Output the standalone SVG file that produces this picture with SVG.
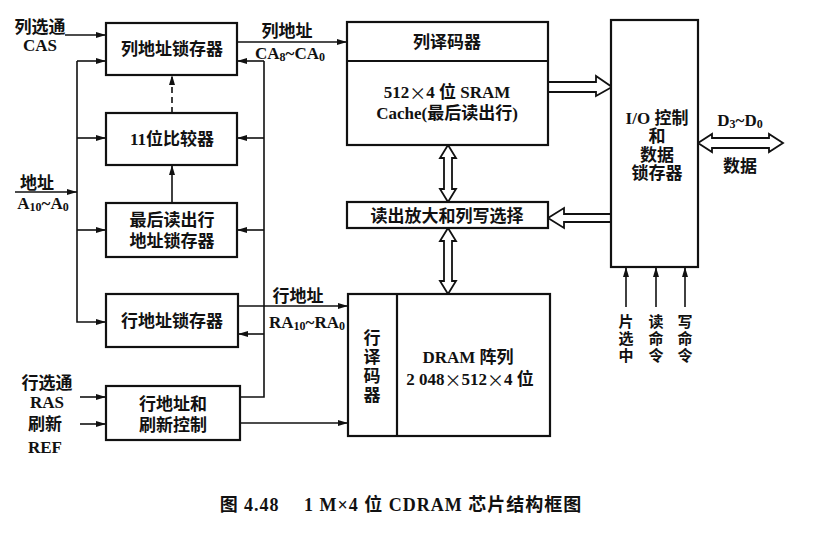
<svg xmlns="http://www.w3.org/2000/svg" width="821" height="535" viewBox="0 0 821 535">
<defs>
<style>
text{font-family:"Liberation Serif","Noto Sans CJK SC",serif;font-weight:bold;font-size:17px;fill:#111;text-anchor:middle;dominant-baseline:central}
.box{fill:#fff;stroke:#111;stroke-width:2.2}
.ln{fill:none;stroke:#111;stroke-width:1.6}
.hol{fill:#fff;stroke:#111;stroke-width:1.8;stroke-linejoin:miter}
.sub{font-size:12px}
.vt{font-size:15px}
.x{font-family:"Noto Sans CJK SC",sans-serif;font-weight:normal}
.cap{font-size:18px;letter-spacing:1px}
</style>
<marker id="ah" viewBox="0 0 10 8" refX="10" refY="4" markerWidth="10" markerHeight="8" markerUnits="userSpaceOnUse" orient="auto">
<path d="M0,1 L10,4 L0,7 Z" fill="#111"/>
</marker>
</defs>
<rect width="821" height="535" fill="#fff"/>

<g id="connectors">
<path class="ln" d="M77,61 V322 H106" marker-end="url(#ah)"/>
<path class="ln" d="M77,61 H106" marker-end="url(#ah)"/>
<path class="ln" d="M77,138 H106" marker-end="url(#ah)"/>
<path class="ln" d="M77,230 H106" marker-end="url(#ah)"/>
<path class="ln" d="M15,192 H77" marker-end="url(#ah)"/>
<path class="ln" d="M65,35 H106" marker-end="url(#ah)"/>
<path class="ln" d="M240,397 H264 V61"/>
<path class="ln" d="M264,61 H237" marker-end="url(#ah)"/>
<path class="ln" d="M264,138 H237" marker-end="url(#ah)"/>
<path class="ln" d="M264,230 H237" marker-end="url(#ah)"/>
<path class="ln" d="M264,334 H238" marker-end="url(#ah)"/>
<path class="ln" d="M172,113 V75" stroke-dasharray="6,4" marker-end="url(#ah)"/>
<path class="ln" d="M172,203 V165" marker-end="url(#ah)"/>
<path class="ln" d="M237,42 H347" marker-end="url(#ah)"/>
<path class="ln" d="M238,306 H348" marker-end="url(#ah)"/>
<path class="ln" d="M240,423 H348" marker-end="url(#ah)"/>
<path class="ln" d="M80,397 H106" marker-end="url(#ah)"/>
<path class="ln" d="M80,424 H106" marker-end="url(#ah)"/>
<path class="ln" d="M626,307 V267" marker-end="url(#ah)"/>
<path class="ln" d="M656,307 V267" marker-end="url(#ah)"/>
<path class="ln" d="M685,307 V267" marker-end="url(#ah)"/>
<polygon class="hol" points="548,82 596,82 596,76 612,87 596,96 596,92 548,92"/>
<polygon class="hol" points="612,214 564,214 564,208 548,218 564,228 564,222 612,222"/>
<polygon class="hol" points="448,145 456,158 452,158 452,189 456,189 448,202 440,189 444,189 444,158 440,158"/>
<polygon class="hol" points="448,228 456,241 452,241 452,281 456,281 448,294 440,281 444,281 444,241 440,241"/>
<polygon class="hol" points="698,143 712,134 712,138 769,138 769,134 783,143 769,152 769,148 712,148 712,152"/>
</g>

<g id="colLatch"><rect class="box" x="106" y="23" width="131" height="52"/><text x="172" y="49">列地址锁存器</text></g>
<g id="comparator"><rect class="box" x="106" y="113" width="131" height="52"/><text x="172" y="139">11位比较器</text></g>
<g id="lastRowLatch"><rect class="box" x="106" y="203" width="131" height="54"/><text x="172" y="220">最后读出行</text><text x="172" y="241">地址锁存器</text></g>
<g id="rowLatch"><rect class="box" x="106" y="294" width="132" height="53"/><text x="172" y="321">行地址锁存器</text></g>
<g id="rowCtrl"><rect class="box" x="106" y="386" width="134" height="54"/><text x="173" y="404">行地址和</text><text x="173" y="425">刷新控制</text></g>
<g id="sram"><rect class="box" x="347" y="22" width="201" height="123"/><line class="box" x1="347" y1="61" x2="548" y2="61"/><text x="447" y="42">列译码器</text><text x="447" y="92">512<tspan class="x">×</tspan>4 位  SRAM</text><text x="447" y="113">Cache(最后读出行)</text></g>
<g id="senseAmp"><rect class="box" x="347" y="202" width="201" height="26"/><text x="447" y="216">读出放大和列写选择</text></g>
<g id="dram"><rect class="box" x="348" y="294" width="202" height="142"/><line class="box" x1="397" y1="294" x2="397" y2="436"/>
<text x="372" y="338">行</text><text x="372" y="357">译</text><text x="372" y="376">码</text><text x="372" y="395">器</text>
<text x="468" y="357">DRAM 阵列</text><text x="470" y="379">2 048<tspan class="x">×</tspan>512<tspan class="x">×</tspan>4 位</text></g>
<g id="io"><rect class="box" x="611" y="20" width="87" height="247"/><text x="657" y="118">I/O 控制</text><text x="657" y="136">和</text><text x="657" y="155">数据</text><text x="657" y="173">锁存器</text></g>

<g id="labels">
<text x="40" y="27">列选通</text><text x="40" y="45">CAS</text>
<text x="287" y="31">列地址</text>
<text x="290" y="53">CA<tspan class="sub" dy="4">8</tspan><tspan dy="-4">~CA</tspan><tspan class="sub" dy="4">0</tspan></text>
<text x="37" y="183">地址</text>
<text x="43" y="203">A<tspan class="sub" dy="4">10</tspan><tspan dy="-4">~A</tspan><tspan class="sub" dy="4">0</tspan></text>
<text x="298" y="296">行地址</text>
<text x="307" y="322">RA<tspan class="sub" dy="4">10</tspan><tspan dy="-4">~RA</tspan><tspan class="sub" dy="4">0</tspan></text>
<text x="47" y="383">行选通</text><text x="47" y="402">RAS</text>
<text x="45" y="424">刷新</text><text x="45" y="447">REF</text>
<text x="740" y="120">D<tspan class="sub" dy="4">3</tspan><tspan dy="-4">~D</tspan><tspan class="sub" dy="4">0</tspan></text>
<text x="740" y="166">数据</text>
<text class="vt" x="626" y="322">片</text><text class="vt" x="626" y="339">选</text><text class="vt" x="626" y="356">中</text>
<text class="vt" x="656" y="322">读</text><text class="vt" x="656" y="339">命</text><text class="vt" x="656" y="356">令</text>
<text class="vt" x="685" y="322">写</text><text class="vt" x="685" y="339">命</text><text class="vt" x="685" y="356">令</text>
<text class="cap" x="401" y="505">图 4.48　 1 M×4 位 CDRAM 芯片结构框图</text>
</g>
</svg>
